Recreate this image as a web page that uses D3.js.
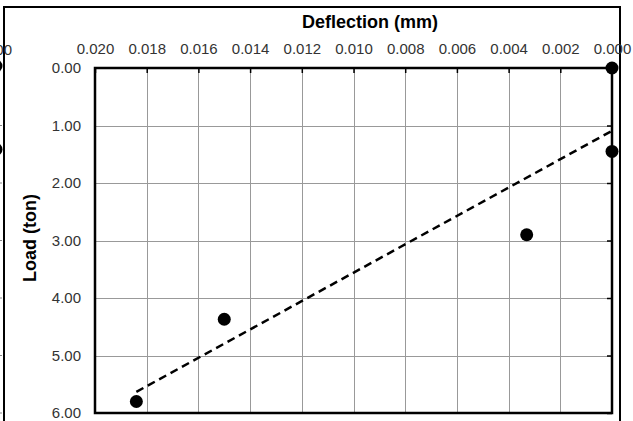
<!DOCTYPE html>
<html>
<head>
<meta charset="utf-8">
<script src="https://cdn.jsdelivr.net/npm/d3@7"></script>
<style>
  body { margin: 0; background: #fff; }
  svg { display: block; font-family: "Liberation Sans", Arial, sans-serif; }
</style>
</head>
<body>
<svg id="chart" width="633" height="421"></svg>
<script>

// data

var deflection = [0.000, 0.000, 0.0033, 0.0150, 0.0184];
var load = [0.00, 1.45, 2.90, 4.37, 5.80];

var xTicks = [0.020, 0.018, 0.016, 0.014, 0.012, 0.010, 0.008, 0.006, 0.004, 0.002, 0.000];
var yTicks = [0, 1, 2, 3, 4, 5, 6];

// bits of the neighbouring chart that got cut into the picture

var neighbourLoad = [0.00, 1.45];

// layout (note: "top" is taken by window.top, so plot* names)

var svg = d3.select("#chart");
var plotLeft = 95, plotRight = 612, plotTop = 68, plotBottom = 413;

var x = d3.scaleLinear().domain([0.020, 0.000]).range([plotLeft, plotRight]);
var y = d3.scaleLinear().domain([0, 6]).range([plotTop, plotBottom]);

// left-over neighbour chart

svg.selectAll(".nb")
  .data(neighbourLoad)
  .enter()
  .append("circle")
  .attr("cx", -4)
  .attr("cy", function (d) { return y(d) - 2; })
  .attr("r", 6.5)
  .attr("fill", "#000");

svg.selectAll(".nbtick")
  .data(yTicks.slice(1))
  .enter()
  .append("line")
  .attr("x1", 0).attr("x2", 2)
  .attr("y1", function (d) { return y(d); })
  .attr("y2", function (d) { return y(d); })
  .attr("stroke", "#888");

// outer frame

svg.append("rect")
  .attr("x", 4).attr("y", 7)
  .attr("width", 616).attr("height", 440)
  .attr("fill", "none")
  .attr("stroke", "#000")
  .attr("stroke-width", 2);

svg.append("text")
  .attr("x", 12).attr("y", 55)
  .attr("text-anchor", "end")
  .attr("font-size", 15)
  .attr("fill", "#333")
  .text("0.000");

// gridlines

var grid = svg.append("g").attr("stroke", "#999").attr("stroke-width", 1);

grid.selectAll(".vx")
  .data(xTicks)
  .enter()
  .append("line")
  .attr("x1", function (d) { return Math.round(x(d)) + 0.5; })
  .attr("x2", function (d) { return Math.round(x(d)) + 0.5; })
  .attr("y1", plotTop).attr("y2", plotBottom);

grid.selectAll(".hy")
  .data(yTicks)
  .enter()
  .append("line")
  .attr("x1", plotLeft).attr("x2", plotRight)
  .attr("y1", function (d) { return Math.round(y(d)) + 0.5; })
  .attr("y2", function (d) { return Math.round(y(d)) + 0.5; });

// axes: deflection on top, load down the left, little ticks on the right

var xAxis = svg.append("g")
  .attr("transform", "translate(0," + plotTop + ")")
  .call(d3.axisTop(x).tickValues(xTicks).tickFormat(d3.format(".3f")).tickSizeInner(-5).tickSizeOuter(0).tickPadding(14));

var yAxis = svg.append("g")
  .attr("transform", "translate(" + plotLeft + ",0)")
  .call(d3.axisLeft(y).tickValues(yTicks).tickFormat(d3.format(".2f")).tickSize(0).tickPadding(14));

var yRight = svg.append("g")
  .attr("transform", "translate(" + plotRight + ",0)")
  .call(d3.axisRight(y).tickValues(yTicks).tickFormat("").tickSizeInner(-5).tickSizeOuter(0));

[xAxis, yAxis, yRight].forEach(function (g) {
  g.select(".domain").remove();
  g.selectAll("line").attr("stroke", "#000").attr("stroke-width", 1.5);
  g.selectAll("text")
    .attr("font-size", 15)
    .attr("fill", "#333")
    .attr("font-family", "'Liberation Sans', Arial, sans-serif");
});

// plot border

svg.append("rect")
  .attr("x", plotLeft).attr("y", plotTop)
  .attr("width", plotRight - plotLeft).attr("height", plotBottom - plotTop)
  .attr("fill", "none")
  .attr("stroke", "#000")
  .attr("stroke-width", 2.5);

// linear trendline (least squares of load on deflection)

var mx = d3.mean(deflection), my = d3.mean(load);
var sxy = d3.sum(deflection, function (d, i) { return (d - mx) * (load[i] - my); });
var sxx = d3.sum(deflection, function (d) { return (d - mx) * (d - mx); });
var slope = sxy / sxx, icept = my - slope * mx;
var ends = [d3.max(deflection), d3.min(deflection)];

svg.append("line")
  .attr("x1", x(ends[0])).attr("y1", y(icept + slope * ends[0]))
  .attr("x2", x(ends[1])).attr("y2", y(icept + slope * ends[1]))
  .attr("stroke", "#000")
  .attr("stroke-width", 2.5)
  .attr("stroke-dasharray", "8,5");

// points

svg.selectAll(".pt")
  .data(deflection)
  .enter()
  .append("circle")
  .attr("cx", function (d) { return x(d); })
  .attr("cy", function (d, i) { return y(load[i]); })
  .attr("r", 6.5)
  .attr("fill", "#000");

// titles

svg.append("text")
  .attr("x", 370).attr("y", 28)
  .attr("text-anchor", "middle")
  .attr("font-size", 18)
  .attr("font-weight", "bold")
  .text("Deflection (mm)");

svg.append("text")
  .attr("transform", "translate(36,238) rotate(-90)")
  .attr("text-anchor", "middle")
  .attr("font-size", 18)
  .attr("font-weight", "bold")
  .text("Load (ton)");

</script>
</body>
</html>
